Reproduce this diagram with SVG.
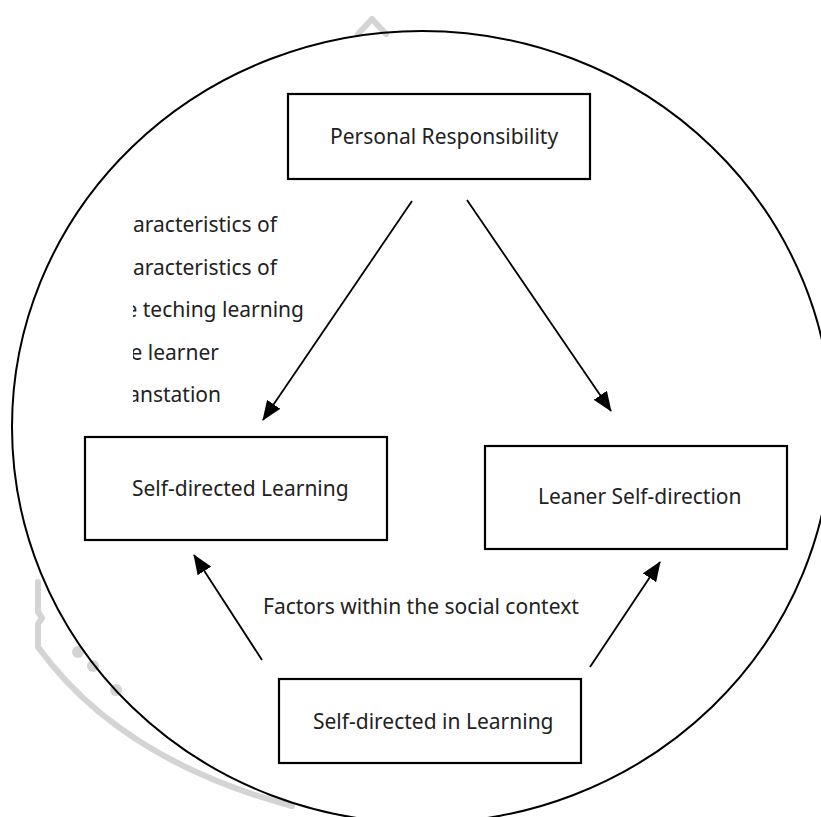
<svg xmlns="http://www.w3.org/2000/svg" width="821" height="817" viewBox="0 0 821 817">
<style>
.box{fill:#fff;stroke:#000;stroke-width:2.2}
.lbl{font-family:"Noto Sans","Open Sans",sans-serif;font-size:21px;fill:#222}
.end{text-anchor:end}
.edge{stroke:#000;stroke-width:1.8;fill:none;marker-end:url(#ah)}
.wm{stroke:#d4d4d4;stroke-width:6;fill:none;stroke-linecap:round;stroke-linejoin:round}
</style>
<defs>
<marker id="ah" markerUnits="userSpaceOnUse" markerWidth="20" markerHeight="16" viewBox="0 0 20 16" refX="19" refY="8" orient="auto">
<path d="M0,0 L20,8 L0,16 Z" fill="#000"/>
</marker>
<clipPath id="lc"><rect x="133" y="200" width="200" height="220"/></clipPath>
</defs>
<rect width="821" height="817" fill="#fff"/>
<g id="watermark">
<path class="wm" d="M358,34 L372,19 L386,34"/>
<path class="wm" d="M38,582 L38,612 L42,618 L38,624 L38,647 Q120,760 292,806"/>
<circle cx="78" cy="652" r="6" fill="#d4d4d4"/>
<circle cx="93" cy="666" r="6" fill="#d4d4d4"/>
<circle cx="116" cy="690" r="6" fill="#d4d4d4"/>
</g>
<ellipse id="circle" cx="422" cy="427" rx="410" ry="396" fill="none" stroke="#000" stroke-width="2"/>
<g id="connectors">
<line class="edge" x1="412" y1="201" x2="263" y2="420"/>
<line class="edge" x1="467" y1="200" x2="611" y2="411"/>
<line class="edge" x1="262" y1="660" x2="194" y2="555"/>
<line class="edge" x1="590" y1="667" x2="660" y2="562"/>
</g>
<g id="left-notes" clip-path="url(#lc)">
<text class="lbl end" x="277" y="232">haracteristics of</text>
<text class="lbl end" x="277" y="274.5">haracteristics of</text>
<text class="lbl end" x="304" y="317">he teching learning</text>
<text class="lbl end" x="219" y="359.5">he learner</text>
<text class="lbl end" x="221" y="402">ranstation</text>
</g>
<g id="personal-responsibility">
<rect class="box" x="288" y="94" width="302" height="85"/>
<text class="lbl" x="330" y="144">Personal Responsibility</text>
</g>
<g id="self-directed-learning">
<rect class="box" x="85" y="437" width="302" height="103"/>
<text class="lbl" x="132" y="496">Self-directed Learning</text>
</g>
<g id="leaner-self-direction">
<rect class="box" x="485" y="446" width="302" height="103"/>
<text class="lbl" x="538" y="504">Leaner Self-direction</text>
</g>
<g id="self-directed-in-learning">
<rect class="box" x="279" y="679" width="302" height="84"/>
<text class="lbl" x="313" y="729">Self-directed in Learning</text>
</g>
<g id="social-context">
<text class="lbl" x="263" y="614">Factors within the social context</text>
</g>
</svg>
